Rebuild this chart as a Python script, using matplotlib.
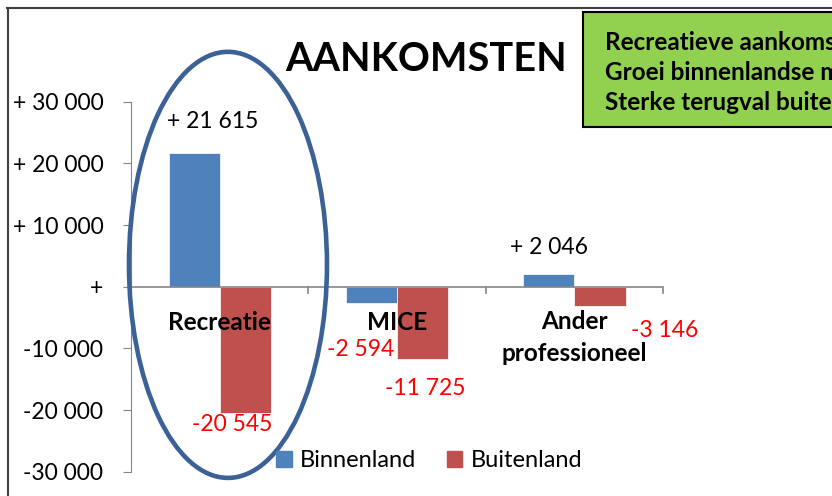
import matplotlib
matplotlib.use('Agg')
import matplotlib.pyplot as plt
from matplotlib.patches import Ellipse, Rectangle, Patch
from matplotlib.lines import Line2D
import numpy as np

plt.rcParams['font.family'] = ['Lato', 'DejaVu Sans']

# data
categories = ['Recreatie', 'MICE', 'Ander\nprofessioneel']
binnenland = [21615, -2594, 2046]
buitenland = [-20545, -11725, -3146]
binnen_labels = ['+ 21 615', '-2 594', '+ 2 046']
buiten_labels = ['-20 545', '-11 725', '-3 146']
y_ticks = [30000, 20000, 10000, 0, -10000, -20000, -30000]
y_ticklabels = ['+ 30 000', '+ 20 000', '+ 10 000', '+', '-10 000', '-20 000', '-30 000']
box_lines = ['Recreatieve aankomsten', 'Groei binnenlandse markt', 'Sterke terugval buitenland']

blue = '#4F81BD'
red = '#C0504D'

fig = plt.figure(figsize=(8.32, 4.96), dpi=100)
ax = fig.add_axes([0.1575, 0.049, 0.6395, 0.746])

x = np.arange(len(categories))
w = 0.288
ax.bar(x - w / 2, binnenland, w, color=blue, edgecolor='white', linewidth=0.5)
ax.bar(x + w / 2, buitenland, w, color=red, edgecolor='white', linewidth=0.5)

ax.set_xlim(-0.5, 2.5)
ax.set_ylim(-30000, 30000)

# axes look
for s in ['top', 'right', 'bottom']:
    ax.spines[s].set_visible(False)
ax.spines['left'].set_color('#868686')
ax.axhline(0, color='#868686', lw=1.2, zorder=3)
ax.set_yticks(y_ticks)
ax.set_yticklabels(y_ticklabels, fontsize=16.5)
ax.tick_params(axis='y', length=6, color='#868686', pad=14)
ax.set_xticks([])
for b in [0.5, 1.5, 2.5]:
    ax.plot([b, b], [0, -1100], color='#868686', lw=1.2, clip_on=False)

# category labels (multi-line ones split per line)
cat_y = [-5850, -5850, -5700]
for i, cat in enumerate(categories):
    for j, part in enumerate(cat.split('\n')):
        ax.text(i, cat_y[i] - j * 5200, part, ha='center', va='center',
                fontsize=17.5, fontweight='bold')

# value labels
binnen_pos = [(-0.038, 26750), (0.797, -10210), (1.858, 6320)]
buiten_pos = [(0.070, -22370), (1.158, -16530), (2.51, -7130)]
for (px, py), lab, v in zip(binnen_pos, binnen_labels, binnenland):
    ax.text(px, py, lab, ha='center', va='center', fontsize=16.5,
            color='black' if v > 0 else 'red')
for (px, py), lab in zip(buiten_pos, buiten_labels):
    ax.text(px, py, lab, ha='center', va='center', fontsize=16.5, color='red')

# title
fig.text(0.512, 0.881, 'AANKOMSTEN', ha='center', va='center', fontsize=28.5, fontweight='bold')

# green box
fig.patches.append(Rectangle((0.7007, 0.744), 0.35, 0.232, transform=fig.transFigure,
                             facecolor='#92D050', edgecolor='black', lw=1.5))
for i, line in enumerate(box_lines):
    fig.text(0.727, 0.914 - i * 0.0605, line, ha='left', va='center', fontsize=17.5,
             fontweight='bold')

# ellipse
fig.patches.append(Ellipse((0.274, 0.466), 0.238, 0.859, transform=fig.transFigure,
                           fill=False, edgecolor='#3B6196', lw=3.3, zorder=5))

# frame
fig.lines.append(Line2D([0.009, 1.0], [0.983, 0.983], transform=fig.transFigure, color='#404040', lw=1.5))
fig.lines.append(Line2D([0.010, 0.010], [0.0, 0.983], transform=fig.transFigure, color='#404040', lw=1.5))

# legend
handles = [Patch(color=blue, label='Binnenland'), Patch(color=red, label='Buitenland')]
fig.legend(handles=handles, loc='center', bbox_to_anchor=(0.516, 0.0706), ncol=2,
           frameon=False, fontsize=17, handlelength=0.65, handleheight=0.65,
           handletextpad=0.35, columnspacing=1.3)

fig.savefig('out.png', dpi=100)
